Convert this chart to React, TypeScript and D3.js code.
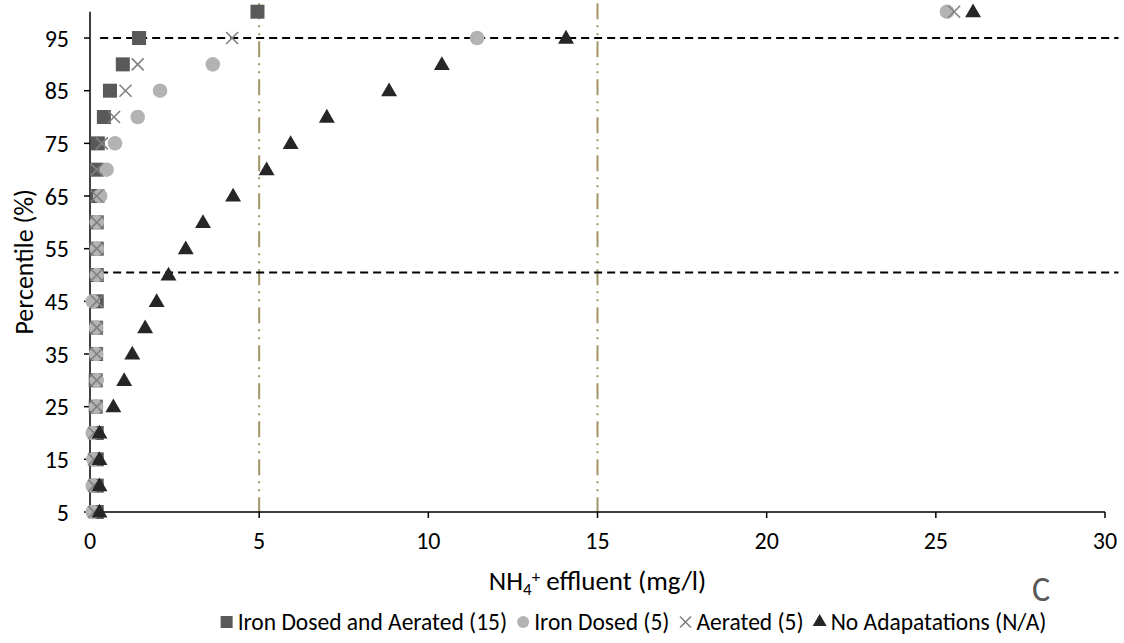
import React from "react";
import * as d3 from "d3";

// Percentile levels (%) shared by all four treatment series
const percentiles = [5, 10, 15, 20, 25, 30, 35, 40, 45, 50, 55, 60, 65, 70, 75, 80, 85, 90, 95, 100];

// NH4+ effluent concentrations (mg/l) at each percentile
const ironDosedAerated = [0.2, 0.2, 0.2, 0.2, 0.17, 0.17, 0.18, 0.18, 0.2, 0.2, 0.2, 0.2, 0.22, 0.2, 0.23, 0.41, 0.59, 0.97, 1.45, 4.95];
const ironDosed = [0.08, 0.08, 0.1, 0.08, 0.18, 0.2, 0.18, 0.18, 0.08, 0.2, 0.2, 0.2, 0.3, 0.49, 0.74, 1.41, 2.07, 3.63, 11.44, 25.33];
const aerated = [0.12, 0.12, 0.12, 0.12, 0.2, 0.2, 0.2, 0.2, 0.2, 0.2, 0.2, 0.2, 0.2, 0.2, 0.35, 0.71, 1.05, 1.41, 4.2, 25.54];
const noAdaptations = [0.28, 0.28, 0.28, 0.28, 0.69, 1.01, 1.25, 1.63, 1.97, 2.32, 2.83, 3.34, 4.23, 5.22, 5.93, 7.0, 8.84, 10.4, 14.07, 26.1];

const xTicks = [0, 5, 10, 15, 20, 25, 30];
const yTicks = [5, 15, 25, 35, 45, 55, 65, 75, 85, 95];

// Reference lines: percentile levels (horizontal) and consent limits (vertical)
const percentileLines = [95, 50.5];
const limitLines = [5, 15];

const seriesNames = ["Iron Dosed and Aerated (15)", "Iron Dosed (5)", "Aerated (5)", "No Adapatations (N/A)"];
const seriesKinds = ["square", "circle", "cross", "triangle"];

const FONT = "Calibri, Carlito, Lato, sans-serif";
const W = 1124;
const H = 643;
const M = { left: 90, right: 1105, top: 11.7, bottom: 512 };
const LEGEND_FONT = 23.5;

const COLORS: Record<string, string> = {
  square: "#595959",
  circle: "#b3b3b3",
  cross: "#808080",
  triangle: "#262626",
};

function Square({ cx, cy, s, fill }: { cx: number; cy: number; s: number; fill: string }) {
  return <rect x={cx - s / 2} y={cy - s / 2} width={s} height={s} fill={fill} />;
}

function Cross({ cx, cy, s, stroke }: { cx: number; cy: number; s: number; stroke: string }) {
  const h = s / 2;
  return (
    <g stroke={stroke} strokeWidth={1.6}>
      <line x1={cx - h} y1={cy - h} x2={cx + h} y2={cy + h} />
      <line x1={cx - h} y1={cy + h} x2={cx + h} y2={cy - h} />
    </g>
  );
}

function Triangle({ cx, cy, s, fill }: { cx: number; cy: number; s: number; fill: string }) {
  const p = d3.symbol().type(d3.symbolTriangle).size(s)();
  return <path d={p as string} transform={`translate(${cx},${cy + 1})`} fill={fill} />;
}

function measure(text: string, size: number): number {
  const ctx = document.createElement("canvas").getContext("2d");
  if (!ctx) return text.length * size * 0.5;
  ctx.font = `${size}px ${FONT}`;
  return ctx.measureText(text).width;
}

export default function App() {
  const x = d3.scaleLinear().domain([0, 30]).range([M.left, M.right]);
  const y = d3.scaleLinear().domain([5, 100]).range([M.bottom, M.top]);

  // Legend laid out in one centred row: marker, gap, label, spacing
  const markerW = 12;
  const markerGap = 5;
  const itemGap = 10;
  const widths = seriesNames.map((n) => measure(n, LEGEND_FONT));
  const total = widths.reduce((a, w) => a + markerW + markerGap + w, 0) + itemGap * (seriesNames.length - 1);
  let cursor = 633.5 - total / 2;
  const legendItems = seriesNames.map((name, i) => {
    const mx = cursor + markerW / 2;
    const tx = cursor + markerW + markerGap;
    cursor = tx + widths[i] + itemGap;
    return { name, kind: seriesKinds[i], x: mx, tx };
  });
  const legendY = 622;

  return (
    <svg
      width={W}
      height={H}
      style={{ position: "absolute", left: 0, top: 0, background: "#fff" }}
      fontFamily={FONT}
    >
      {/* limit lines */}
      {limitLines.map((v) => (
        <line
          key={`l${v}`}
          x1={x(v)}
          x2={x(v)}
          y1={y(101.6)}
          y2={y(5)}
          stroke="#a39565"
          strokeWidth={2}
          strokeDasharray="16 6 2 6 2 6"
        />
      ))}
      {/* percentile lines */}
      {percentileLines.map((v) => (
        <line
          key={`p${v}`}
          x1={x(0.3)}
          x2={x(30.4)}
          y1={y(v)}
          y2={y(v)}
          stroke="#000"
          strokeWidth={2}
          strokeDasharray="8 5"
        />
      ))}

      {/* axes */}
      <line x1={M.left} x2={M.left} y1={M.top} y2={M.bottom} stroke="#000" strokeWidth={1.5} />
      <line x1={M.left} x2={M.right} y1={M.bottom} y2={M.bottom} stroke="#000" strokeWidth={1.5} />
      {yTicks.map((t) => (
        <g key={`yt${t}`}>
          <line x1={M.left - 6} x2={M.left} y1={y(t)} y2={y(t)} stroke="#000" strokeWidth={1.5} />
          <text x={69} y={y(t)} dy="0.36em" textAnchor="end" fontSize={24} fill="#000">
            {t}
          </text>
        </g>
      ))}
      {xTicks.map((t) => (
        <g key={`xt${t}`}>
          <line x1={x(t)} x2={x(t)} y1={M.bottom} y2={M.bottom + 6} stroke="#000" strokeWidth={1.5} />
          <text x={x(t)} y={540} dy="0.36em" textAnchor="middle" fontSize={24} fill="#000">
            {t}
          </text>
        </g>
      ))}

      {/* axis titles */}
      <text x={(M.left + M.right) / 2} y={580} dy="0.36em" textAnchor="middle" fontSize={27} fill="#000">
        NH
        <tspan dy={5} fontSize={17}>4</tspan>
        <tspan dy={-13} fontSize={17}>+</tspan>
        <tspan dy={8}> effluent (mg/l)</tspan>
      </text>
      <text
        transform={`translate(24,${(M.top + M.bottom) / 2}) rotate(-90)`}
        dy="0.36em"
        textAnchor="middle"
        fontSize={26}
        fill="#000"
      >
        Percentile (%)
      </text>
      <text x={1041} y={589} dy="0.36em" textAnchor="middle" fontSize={34} fontWeight={300} fill="#595959">
        C
      </text>

      {/* data markers */}
      {ironDosedAerated.map((v, i) => (
        <Square key={`s${i}`} cx={x(v)} cy={y(percentiles[i])} s={14} fill={COLORS.square} />
      ))}
      {ironDosed.map((v, i) => (
        <circle key={`c${i}`} cx={x(v)} cy={y(percentiles[i])} r={7.3} fill={COLORS.circle} />
      ))}
      {aerated.map((v, i) => (
        <Cross key={`x${i}`} cx={x(v)} cy={y(percentiles[i])} s={12} stroke={COLORS.cross} />
      ))}
      {noAdaptations.map((v, i) => (
        <Triangle key={`t${i}`} cx={x(v)} cy={y(percentiles[i])} s={110} fill={COLORS.triangle} />
      ))}

      {/* legend */}
      {legendItems.map((it, i) => (
        <g key={`lg${i}`}>
          {it.kind === "square" && <Square cx={it.x} cy={legendY} s={12} fill={COLORS.square} />}
          {it.kind === "circle" && <circle cx={it.x} cy={legendY} r={6} fill={COLORS.circle} />}
          {it.kind === "cross" && <Cross cx={it.x} cy={legendY} s={11} stroke={COLORS.cross} />}
          {it.kind === "triangle" && <Triangle cx={it.x} cy={legendY - 1} s={85} fill={COLORS.triangle} />}
          <text x={it.tx} y={legendY} dy="0.36em" fontSize={LEGEND_FONT} fill="#000">
            {it.name}
          </text>
        </g>
      ))}
    </svg>
  );
}
